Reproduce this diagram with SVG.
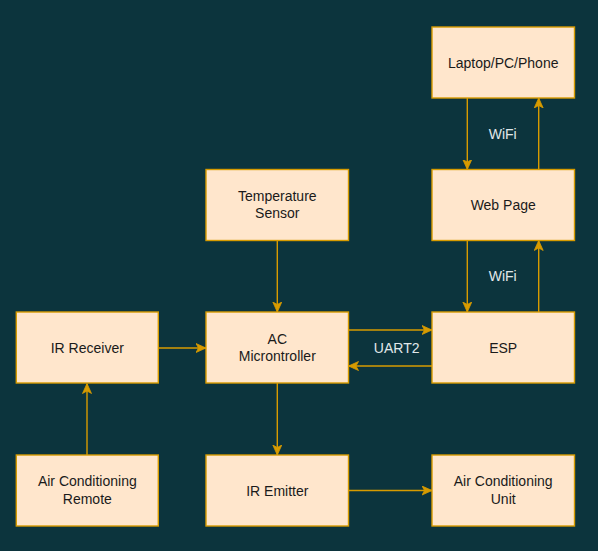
<svg xmlns="http://www.w3.org/2000/svg" width="598" height="551" viewBox="0 0 598 551">
<defs>
<marker id="arr" viewBox="0 0 10 10" refX="10" refY="5" markerWidth="10" markerHeight="10" markerUnits="userSpaceOnUse" orient="auto">
<path d="M0,0.5 L10,5 L0,9.5 L2.5,5 Z" fill="#D79B00" stroke="#D79B00" stroke-width="0.8"/>
</marker>
<style>
.box{fill:#FFE6CC;stroke:#D79B00;stroke-width:1.4}
.t{font-family:"Liberation Sans",Arial,sans-serif;font-size:14px;fill:#1a1a1a;text-anchor:middle}
.lbl{font-family:"Liberation Sans",Arial,sans-serif;font-size:14px;fill:#e1e8ea;text-anchor:middle}
.c{stroke:#D79B00;stroke-width:1.4;fill:none;marker-end:url(#arr)}
</style>
</defs>
<rect width="598" height="551" fill="#0c343d"/>
<g id="connectors">
<line class="c" x1="467.3" y1="98" x2="467.3" y2="169.5"/>
<line class="c" x1="538.7" y1="169.5" x2="538.7" y2="98"/>
<line class="c" x1="538.7" y1="312" x2="538.7" y2="240.5"/>
<line class="c" x1="467.3" y1="240.5" x2="467.3" y2="312"/>
<line class="c" x1="277.3" y1="240.5" x2="277.3" y2="312"/>
<line class="c" x1="277.3" y1="383" x2="277.3" y2="455"/>
<line class="c" x1="158.5" y1="348" x2="206" y2="348"/>
<line class="c" x1="87" y1="455" x2="87" y2="383.5"/>
<line class="c" x1="348.5" y1="330" x2="432" y2="330"/>
<line class="c" x1="432" y1="366" x2="348.5" y2="366"/>
<line class="c" x1="348.5" y1="490.5" x2="432" y2="490.5"/>
<text class="lbl" x="502.7" y="139">WiFi</text>
<text class="lbl" x="502.7" y="281">WiFi</text>
<text class="lbl" x="396.7" y="353">UART2</text>
</g>
<g id="laptop"><rect class="box" x="432" y="27" width="142.5" height="71"/><text class="t" x="503.2" y="67.5">Laptop/PC/Phone</text></g>
<g id="webpage"><rect class="box" x="432" y="169.5" width="142.5" height="71"/><text class="t" x="503.2" y="210">Web Page</text></g>
<g id="temp"><rect class="box" x="206" y="169.5" width="142.5" height="71"/><text class="t" x="277.3" y="200.7">Temperature</text><text class="t" x="277.3" y="218.3">Sensor</text></g>
<g id="irreceiver"><rect class="box" x="16.3" y="312" width="142" height="71"/><text class="t" x="87.3" y="353">IR Receiver</text></g>
<g id="ac"><rect class="box" x="206" y="312" width="142.5" height="71"/><text class="t" x="277.3" y="343.5">AC</text><text class="t" x="277.3" y="361">Microntroller</text></g>
<g id="esp"><rect class="box" x="432" y="312" width="142.5" height="71"/><text class="t" x="503.2" y="353">ESP</text></g>
<g id="remote"><rect class="box" x="16.3" y="455" width="142" height="71"/><text class="t" x="87.3" y="486">Air Conditioning</text><text class="t" x="87.3" y="503.6">Remote</text></g>
<g id="iremitter"><rect class="box" x="206" y="455" width="142.5" height="71"/><text class="t" x="277.3" y="495.5">IR Emitter</text></g>
<g id="acunit"><rect class="box" x="432" y="455" width="142.5" height="71"/><text class="t" x="503.2" y="486">Air Conditioning</text><text class="t" x="503.2" y="503.6">Unit</text></g>
</svg>
